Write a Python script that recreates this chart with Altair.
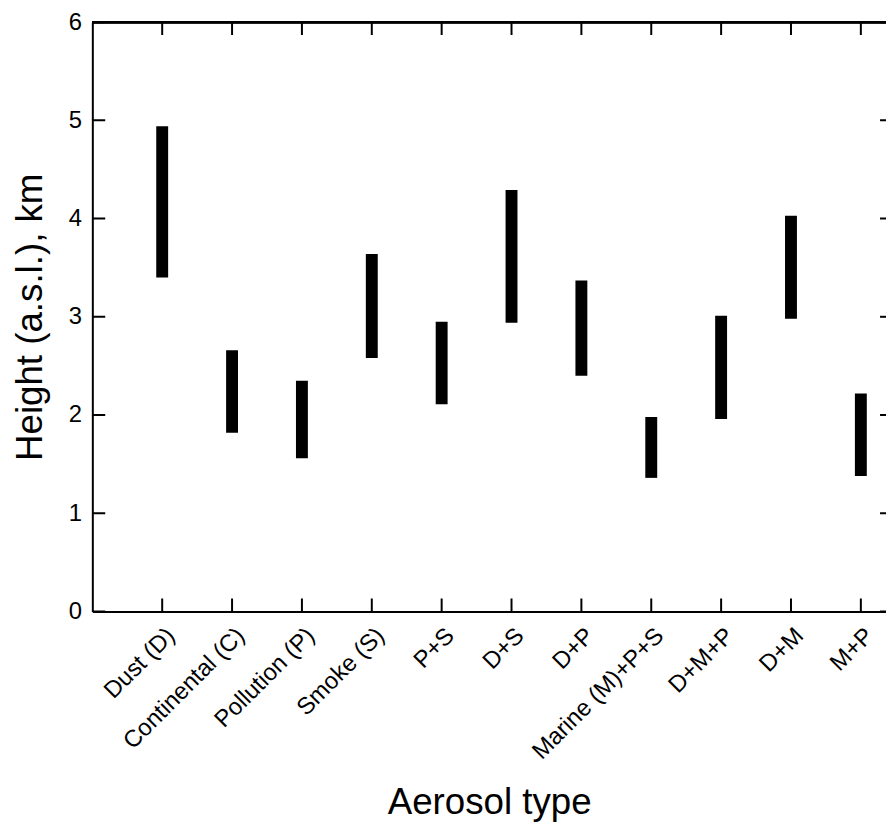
import json
import altair as alt
import pandas as pd

# ---- data ----
categories = ["Dust (D)", "Continental (C)", "Pollution (P)", "Smoke (S)", "P+S", "D+S",
              "D+P", "Marine (M)+P+S", "D+M+P", "D+M", "M+P"]
top_km = [4.94, 2.66, 2.35, 3.64, 2.95, 4.29, 3.37, 1.98, 3.01, 4.03, 2.22]
bottom_km = [3.40, 1.82, 1.56, 2.58, 2.11, 2.94, 2.40, 1.36, 1.96, 2.98, 1.38]
y_ticks = [0, 1, 2, 3, 4, 5, 6]

positions = list(range(1, len(categories) + 1))
XMAX = 11.36
FONT = "Liberation Sans"

df = pd.DataFrame({"pos": positions, "cat": categories, "top": top_km, "bottom": bottom_km})
xt = pd.DataFrame({"pos": positions})
yt = pd.DataFrame({"v": y_ticks})

xscale = alt.Scale(domain=[0, XMAX], nice=False, zero=False)
yscale = alt.Scale(domain=[0, 6], nice=False)

label_expr = json.dumps(categories) + "[datum.value - 1]"

bars = alt.Chart(df).mark_rule(strokeWidth=12, color="black", strokeCap="butt").encode(
    x=alt.X("pos:Q", scale=xscale,
            axis=alt.Axis(values=positions, labelExpr=label_expr, labelAngle=-45,
                          labelAlign="right", labelBaseline="top", labelFontSize=24,
                          labelFont=FONT, labelColor="black", labelPadding=12,
                          ticks=False, domain=True, domainColor="black", domainWidth=2,
                          grid=False, title="Aerosol type", titleFontSize=37,
                          titleFont=FONT, titleFontWeight="normal", titleColor="black",
                          titlePadding=21, labelOverlap=False, labelFlush=False)),
    y=alt.Y("bottom:Q", scale=yscale,
            axis=alt.Axis(values=y_ticks, format="d", labelFontSize=24, labelFont=FONT,
                          labelColor="black", labelPadding=11, ticks=False, domain=True,
                          domainColor="black", domainWidth=2, grid=False,
                          title="Height (a.s.l.), km", titleFontSize=37, titleFont=FONT,
                          titleFontWeight="normal", titleColor="black", titlePadding=19)),
    y2="top:Q",
)

top_line = alt.Chart(yt).mark_rule(color="black", strokeWidth=2).encode(y=alt.datum(6))

tick_style = dict(color="black", thickness=2, clip=True, opacity=1)
bottom_ticks = alt.Chart(xt).mark_tick(orient="vertical", size=26, **tick_style).encode(
    x="pos:Q", y=alt.datum(0))
top_ticks = alt.Chart(xt).mark_tick(orient="vertical", size=26, **tick_style).encode(
    x="pos:Q", y=alt.datum(6))
left_ticks = alt.Chart(yt).mark_tick(orient="horizontal", size=26, **tick_style).encode(
    y="v:Q", x=alt.datum(0))
right_ticks = alt.Chart(yt).mark_tick(orient="horizontal", size=12, **tick_style).encode(
    y="v:Q", x=alt.datum(XMAX))

chart = alt.layer(bars, top_line, bottom_ticks, top_ticks, left_ticks, right_ticks).properties(
    width=800, height=594,
    autosize=alt.AutoSizeParams(type="none"),
    padding={"left": 85, "top": 11, "right": 0, "bottom": 212},
).configure_view(stroke=None).configure(background="white")

chart.save("out.html", embed_options={"renderer": "svg", "actions": False})
